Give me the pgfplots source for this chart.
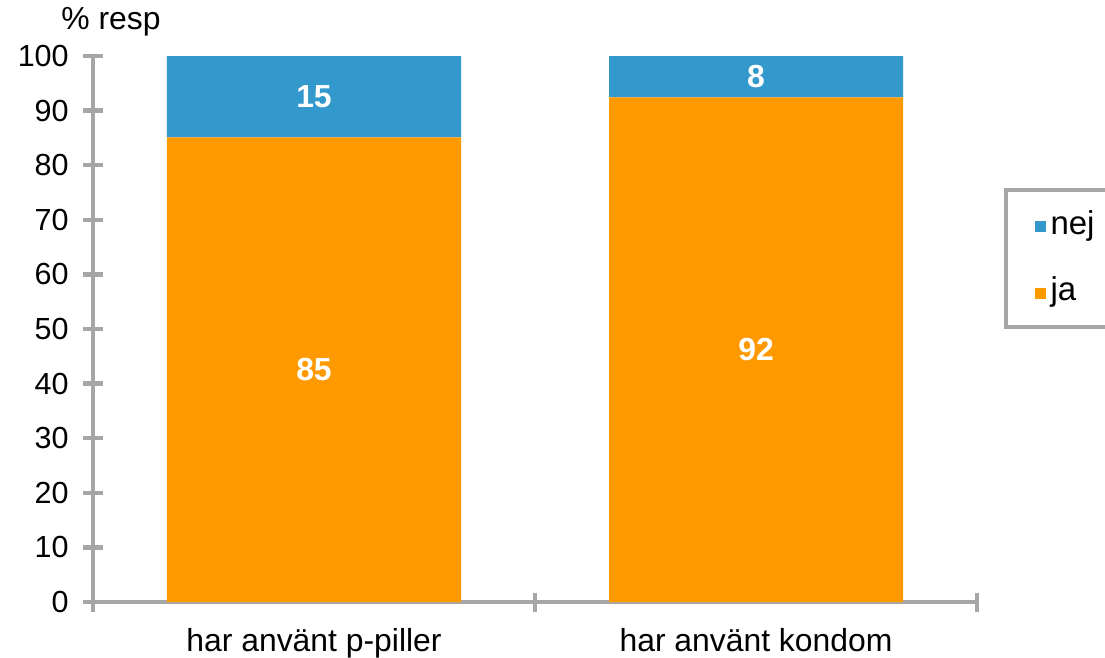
\documentclass[border=0pt]{standalone}
\usepackage{pgfplots}
\pgfplotsset{compat=1.18}
\usepackage{fontspec}
\setmainfont{Liberation Sans}
\definecolor{nejblue}{HTML}{3399CC}
\definecolor{jaorange}{HTML}{FF9900}
\definecolor{axgray}{HTML}{A6A6A6}

\begin{document}
\begin{tikzpicture}
\begin{axis}[
    scale only axis, width=353.6pt, height=218.4pt,
    xmin=0, xmax=2, ymin=0, ymax=100,
    ybar stacked, bar width=117.6pt,
    clip=false,
    axis x line*=bottom, axis y line*=left,
    axis line style={axgray, line width=1.8pt, -},
    ytick={0,10,...,100},
    xtick={0,1,2}, xticklabels={},
    extra x ticks={0.5,1.5},
    extra x tick labels={har använt p-piller, har använt kondom},
    extra x tick style={major tick length=0pt},
    tick align=center, major tick length=7.6pt,
    every tick/.style={axgray, line width=1.8pt},
    xticklabel style={font=\fontsize{12.75}{15}\selectfont, yshift=-7.2pt},
    yticklabel style={font=\fontsize{12.2}{15}\selectfont, xshift=-2.4pt},
    /pgf/number format/assume math mode=true,
    legend image code/.code={\fill[#1] (0pt,-2.2pt) rectangle (4.4pt,2.2pt);},
    reverse legend,
    legend style={at={(rel axis cs:1.0645,0.6264)}, anchor=west,
        draw=none, fill=none, inner sep=0pt, row sep=15.6pt,
        font=\fontsize{13.2}{15}\selectfont,
        nodes={inner xsep=2pt, inner ysep=0pt, text height=8.5pt, text depth=2.5pt}},
    legend cell align=left,
]
\addplot[fill=jaorange, draw=none] coordinates {(0.5,85.1) (1.5,92.4)};
\addlegendentry{ja}
\addplot[fill=nejblue, draw=none] coordinates {(0.5,14.9) (1.5,7.6)};
\addlegendentry{nej}
\draw[axgray, line width=1.4pt] (rel axis cs:1.0328,0.7546) rectangle (rel axis cs:1.16,0.5037);
\node[font=\fontsize{12.75}{15}\selectfont] at (rel axis cs:0.0204,1.0623) {\% resp};
\end{axis}
% value labels, centred in each segment
\begin{axis}[
    scale only axis, width=353.6pt, height=218.4pt,
    xmin=0, xmax=2, ymin=0, ymax=100,
    hide axis, clip=false,
    nodes near coords,
    point meta=explicit symbolic,
    every node near coord/.append style={font=\bfseries\fontsize{12.75}{15}\selectfont,
        white, anchor=center},
]
\addplot[draw=none, mark=none] coordinates {(0.5,42.5) [85] (1.5,46.2) [92]};
\addplot[draw=none, mark=none] coordinates {(0.5,92.5) [15] (1.5,96.2) [8]};
\end{axis}
\pgfresetboundingbox
\useasboundingbox (-37.2pt,-22pt) rectangle (404.8pt,240.8pt);
\end{tikzpicture}
\end{document}
